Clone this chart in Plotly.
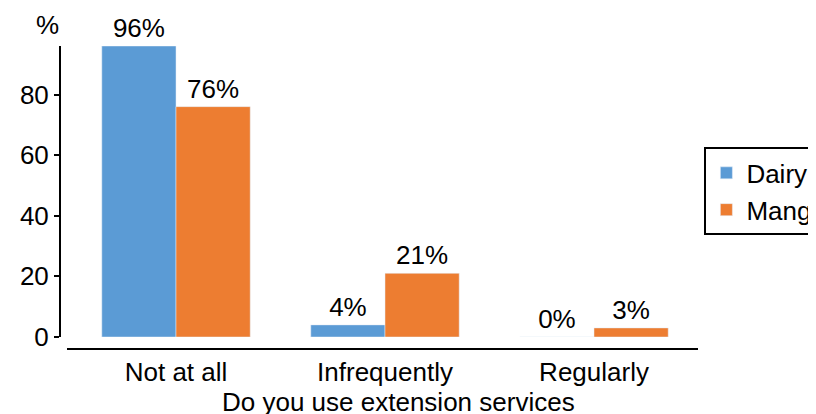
import plotly.graph_objects as go

# survey answers, percent of respondents
categories = ["Not at all", "Infrequently", "Regularly"]
dairy = [96, 4, 0]
mango = [76, 21, 3]
y_ticks = [0, 20, 40, 60, 80]

FONT = "Liberation Sans, Arial, sans-serif"
BLUE = "#5B9BD5"
ORANGE = "#ED7D31"

fig = go.Figure()
fig.add_trace(go.Bar(name="Dairy", x=categories, y=dairy, marker_color=BLUE,
                     texttemplate="%{y}%", textposition="outside",
                     constraintext="none", cliponaxis=False,
                     textfont=dict(size=26, color="black")))
fig.add_trace(go.Bar(name="Mango", x=categories, y=mango, marker_color=ORANGE,
                     texttemplate="%{y}%", textposition="outside",
                     constraintext="none", cliponaxis=False,
                     textfont=dict(size=26, color="black")))

# page body has an 8px margin, so margins are trimmed by 8 on top/left;
# figure is a bit wider than the window so the legend runs off the edge
fig.update_layout(
    width=840, height=414,
    margin=dict(l=52, r=150, t=38, b=73, autoexpand=False),
    paper_bgcolor="white", plot_bgcolor="white",
    font=dict(family=FONT, size=26, color="black"),
    barmode="group", bargap=0.29, bargroupgap=0,
    showlegend=True,
    legend=dict(x=1.01, xanchor="left", y=0.52, yanchor="middle",
                bordercolor="black", borderwidth=2, bgcolor="white",
                font=dict(size=26), tracegroupgap=0, itemwidth=30),
    xaxis=dict(domain=[0.011, 1], range=[-0.5215, 2.4976], anchor="free", position=0,
               showline=True, linecolor="black", linewidth=2, ticks="",
               showgrid=False, zeroline=False, tickfont=dict(size=26)),
    yaxis=dict(domain=[0.0396, 1], range=[0, 96], anchor="free", position=0,
               showline=True, linecolor="black", linewidth=2,
               ticks="outside", ticklen=5, tickwidth=2, tickcolor="black",
               tickvals=y_ticks, showgrid=False, zeroline=False,
               tickfont=dict(size=26)),
    annotations=[
        dict(text="%", xref="paper", yref="paper", x=-0.02, y=1.069,
             xanchor="center", yanchor="middle", showarrow=False,
             font=dict(size=26)),
        dict(text="Do you use extension services", xref="paper", yref="paper",
             x=0.53, y=-0.175, xanchor="center", yanchor="middle",
             showarrow=False, font=dict(size=26)),
    ],
)

fig.write_html("out.html")
